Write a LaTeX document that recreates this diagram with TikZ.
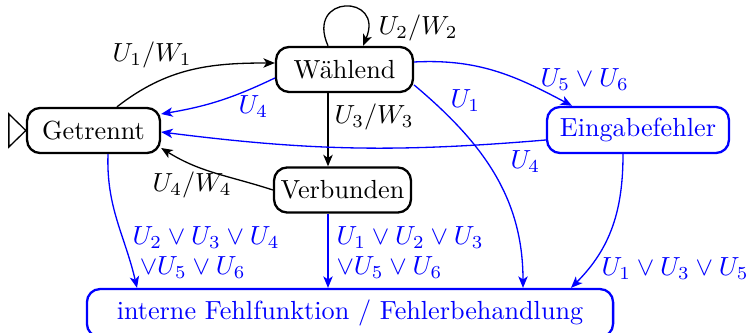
\documentclass[tikz,border=0pt]{standalone}
\usetikzlibrary{arrows.meta}
\begin{document}
\begin{tikzpicture}[x=0.382pt,y=0.382pt,
  >={Stealth[length=4.4pt,width=3.6pt,inset=1.2pt]},
  st/.style={draw, rounded corners=5pt, line width=0.88pt, inner sep=0pt, minimum height=17.2pt},
  ste/.style={st, draw=blue, text=blue},
  tr/.style={->, line width=0.5pt},
  trb/.style={tr, blue},
  lbl/.style={inner sep=0pt, anchor=base west},
  lblb/.style={lbl, text=blue}]
\useasboundingbox (0,0) rectangle (750,333);
% states
\node[st, minimum width=50.8pt] (g) at (93.5,202.5) {Getrennt};
\node[st, minimum width=52.3pt] (w) at (344.5,263.5) {W\"ahlend};
\node[st, minimum width=52.3pt] (v) at (342.5,143) {Verbunden};
\node[ste, minimum width=69.5pt, minimum height=17.6pt] (e) at (638,203) {Eingabefehler};
\node[ste, minimum width=201pt, minimum height=18.3pt] (f) at (350,20) {interne Fehlfunktion / Fehlerbehandlung};
% initial marker
\draw[line width=0.5pt] (g.west) -- ++(-17,16.5) -- ++(0,-33) -- cycle;
% loop
\draw[tr] ([shift={(-16.5,0)}]w.north) .. controls +(-23,52) and +(22,52) .. ([shift={(18.5,0)}]w.north);
\node[lbl] (l2) at (378,298) {$U_2/W_2$};
% black transitions
\draw[tr] ([shift={(23.5,0)}]g.north) to[out=38,in=180] ([shift={(0,6.5)}]w.west);
\node[lbl] (l1) at (112,271) {$U_1/W_1$};
\draw[tr] ([shift={(-16.5,0)}]w.south) -- ([shift={(-14.5,0)}]v.north);
\node[lbl] (l3) at (334,209) {$U_3/W_3$};
\draw[tr] (v.west) to[out=162,in=-32] ([shift={(0,-17.5)}]g.east);
\node[lbl] (l4) at (152,141) {$U_4/W_4$};
% blue transitions
\draw[trb] ([shift={(0,-8.5)}]w.west) to[bend left=8] ([shift={(0,16.5)}]g.east);
\node[lblb] (l5) at (238,219) {$U_4$};
\draw[trb] ([shift={(0,7.5)}]w.east) to[out=3,in=152] ([shift={(-66,0)}]e.north);
\node[lblb] (l6) at (540,246) {$U_5\vee U_6$};
\draw[trb] ([shift={(0,-15.5)}]w.east) to[out=-40,in=90] ([shift={(173,0)}]f.north);
\node[lblb] (l7) at (450,225) {$U_1$};
\draw[trb] ([shift={(0,-10)}]e.west) to[bend left=6] ([shift={(0,-1.5)}]g.east);
\node[lblb] (l8) at (510,164) {$U_4$};
\draw[trb] ([shift={(-15,0)}]e.south) to[out=-90,in=45] ([shift={(221,0)}]f.north);
\node[lblb] (l9) at (601,57) {$U_1\vee U_3\vee U_5$};
\draw[trb] ([shift={(14.5,0)}]g.south) to[out=-92,in=103] ([shift={(-213,0)}]f.north);
\node[lblb] (l10) at (132,88) {$U_2\vee U_3\vee U_4$};
\node[lblb] (l11) at (132,58) {$\mkern5mu\vee U_5\vee U_6$};
\draw[trb] ([shift={(-14.5,0)}]v.south) -- ([shift={(-22,0)}]f.north);
\node[lblb] (l12) at (336,88) {$U_1\vee U_2\vee U_3$};
\node[lblb] (l13) at (336,58) {$\vee U_5\vee U_6$};
\end{tikzpicture}
\end{document}
